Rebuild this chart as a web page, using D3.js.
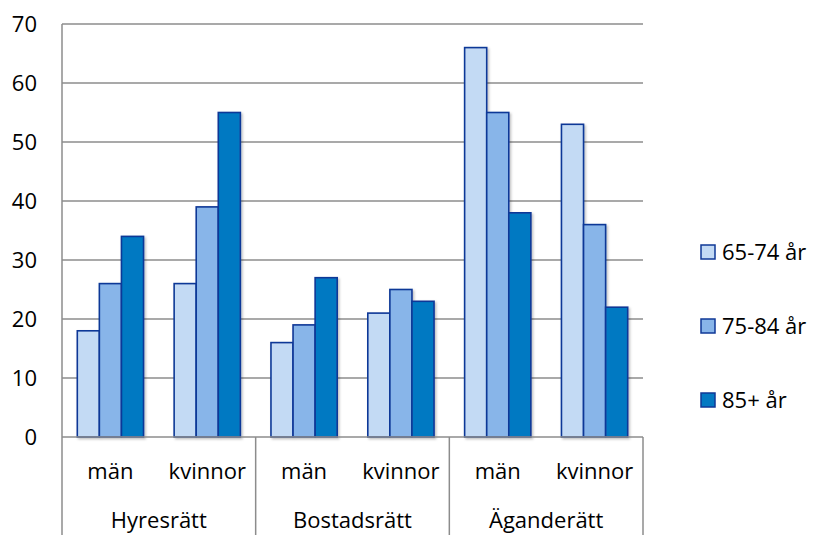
<!DOCTYPE html>
<html>
<head>
<meta charset="utf-8">
<script src="https://cdn.jsdelivr.net/npm/d3@7"></script>
<style>
  body { margin: 0; background: #fff; }
  svg text { font-family: "Open Sans", "Noto Sans", sans-serif; fill: #000; }
</style>
</head>
<body>
<svg id="chart" width="813" height="535"></svg>
<script>
const groups = ["Hyresrätt", "Bostadsrätt", "Äganderätt"];
const sexes = ["män", "kvinnor"];
const series = ["65-74 år", "75-84 år", "85+ år"];
// values per category (group x sex), one per series
const values6574 = [18, 26, 16, 21, 66, 53];
const values7584 = [26, 39, 19, 25, 55, 36];
const values85 = [34, 55, 27, 23, 38, 22];
const yTicks = [0, 10, 20, 30, 40, 50, 60, 70];

const colors = ["#c3daf4", "#88b5e9", "#0479c2"];
const strokeColor = "#0f3897";
const fontSize = 22;

const svg = d3.select("#chart");
const plotLeft = 62, plotRight = 643, plotTop = 24, plotBottom = 437;

const categories = [];
groups.forEach(g => sexes.forEach(s => categories.push({ group: g, sex: s })));
const seriesValues = [values6574, values7584, values85];

const x0 = d3.scaleBand()
    .domain(d3.range(categories.length))
    .range([plotLeft, plotRight]);

const gap = x0.bandwidth() * 0.316;
const x1 = d3.scaleBand()
    .domain(d3.range(series.length))
    .range([gap / 2, x0.bandwidth() - gap / 2]);

const y = d3.scaleLinear().domain([0, 70]).range([plotBottom, plotTop]);

// soft shadow behind the bars
const defs = svg.append("defs");
const filter = defs.append("filter").attr("id", "shadow")
    .attr("x", "-20%").attr("y", "-20%").attr("width", "150%").attr("height", "150%");
filter.append("feDropShadow")
    .attr("dx", 1.5).attr("dy", 1.5).attr("stdDeviation", 1.2)
    .attr("flood-color", "#000").attr("flood-opacity", 0.25);

// gridlines
svg.append("g")
    .selectAll("line")
    .data(yTicks.filter(d => d > 0))
    .join("line")
    .attr("x1", plotLeft).attr("x2", plotRight)
    .attr("y1", d => y(d)).attr("y2", d => y(d))
    .attr("stroke", "#8c8c8c").attr("stroke-width", 1.5);

// y tick labels
svg.append("g")
    .selectAll("text")
    .data(yTicks)
    .join("text")
    .attr("x", 37)
    .attr("y", d => y(d))
    .attr("dy", "0.36em")
    .attr("text-anchor", "end")
    .attr("font-size", fontSize)
    .text(d => d);

// bars
const barG = svg.append("g").attr("filter", "url(#shadow)");
seriesValues.forEach((vals, si) => {
    barG.append("g")
        .selectAll("rect")
        .data(vals)
        .join("rect")
        .attr("x", (d, i) => x0(i) + x1(si))
        .attr("y", d => y(d))
        .attr("width", x1.bandwidth())
        .attr("height", d => y(0) - y(d))
        .attr("fill", colors[si])
        .attr("stroke", strokeColor)
        .attr("stroke-width", 1.6);
});

// axis lines
svg.append("line")
    .attr("x1", plotLeft).attr("x2", plotRight)
    .attr("y1", plotBottom).attr("y2", plotBottom)
    .attr("stroke", "#8c8c8c").attr("stroke-width", 1.5);
svg.append("line")
    .attr("x1", plotLeft).attr("x2", plotLeft)
    .attr("y1", plotTop).attr("y2", 535)
    .attr("stroke", "#8c8c8c").attr("stroke-width", 1.5);

// group separators
svg.append("g")
    .selectAll("line")
    .data(groups)
    .join("line")
    .attr("x1", (d, i) => x0(i * 2 + 1) + x0.bandwidth())
    .attr("x2", (d, i) => x0(i * 2 + 1) + x0.bandwidth())
    .attr("y1", plotBottom).attr("y2", 535)
    .attr("stroke", "#8c8c8c").attr("stroke-width", 1.5);

// category labels
svg.append("g")
    .selectAll("text")
    .data(categories)
    .join("text")
    .attr("x", (d, i) => x0(i) + x0.bandwidth() / 2)
    .attr("y", 471)
    .attr("dy", "0.36em")
    .attr("text-anchor", "middle")
    .attr("font-size", fontSize)
    .text(d => d.sex);

svg.append("g")
    .selectAll("text")
    .data(groups)
    .join("text")
    .attr("x", (d, i) => x0(i * 2) + x0.bandwidth())
    .attr("y", 520)
    .attr("dy", "0.36em")
    .attr("text-anchor", "middle")
    .attr("font-size", fontSize)
    .text(d => d);

// legend
const legend = svg.append("g")
    .selectAll("g")
    .data(series)
    .join("g")
    .attr("transform", (d, i) => `translate(701, ${252 + i * 74})`);
legend.append("rect")
    .attr("x", 0).attr("y", -7)
    .attr("width", 14).attr("height", 14)
    .attr("fill", (d, i) => colors[i])
    .attr("stroke", strokeColor).attr("stroke-width", 1.5);
legend.append("text")
    .attr("x", 21)
    .attr("y", 0)
    .attr("dy", "0.36em")
    .attr("font-size", fontSize)
    .text(d => d);
</script>
</body>
</html>
